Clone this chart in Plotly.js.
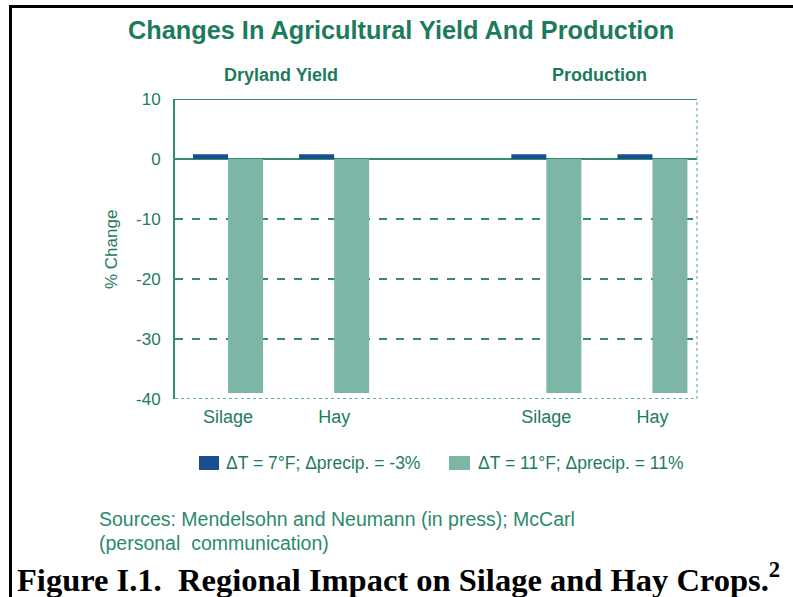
<!DOCTYPE html>
<html><head><meta charset="utf-8">
<script src="https://cdn.plot.ly/plotly-3.0.1.min.js"></script>
<style>html,body{margin:0;padding:0;background:#fff;}#frame{position:absolute;left:0;top:0;width:793px;height:597px;}
#bt{position:absolute;left:9px;top:5px;width:784px;height:3px;background:#000;}
#bl{position:absolute;left:9px;top:5px;width:3px;height:592px;background:#000;}
#chart{position:absolute;left:0;top:0;width:793px;height:597px;}</style>
</head><body><div id="frame"><div id="chart"></div><div id="bt"></div><div id="bl"></div></div>
<script>
// ---- data ----
const panels = ['Dryland Yield', 'Production'];
const crops = ['Silage', 'Hay'];
const seriesNames = ['ΔT = 7°F; Δprecip. = -3%', 'ΔT = 11°F; Δprecip. = 11%'];
const warmValues = [0.8, 0.8, 0.8, 0.8];     // ΔT = 7°F
const hotValues = [-39, -39, -39, -39];      // ΔT = 11°F
const yTicks = [10, 0, -10, -20, -30, -40];
const dashedGrid = [-10, -20, -30];
const chartTitle = 'Changes In Agricultural Yield And Production';
const yTitle = '% Change';
const sourceLines = ['Sources: Mendelsohn and Neumann (in press); McCarl', '(personal  communication)'];
const caption = 'Figure I.1.  Regional Impact on Silage and Hay Crops.<sup>2</sup>';

// ---- styles ----
const teal = '#1d7b5d';
const axisCol = '#2f8f70';
const blue = '#174f8f';
const green = '#7db6a6';
const sans = 'Liberation Sans, Arial, sans-serif';

const keys = [];
panels.forEach(p => crops.forEach(c => keys.push(p + ' ' + c)));
const catOrder = [keys[0], keys[1], 'spacer', keys[2], keys[3]];
const tickText = keys.map(k => crops.find(c => k.endsWith(c)));

const traces = [
  {type: 'bar', x: keys, y: warmValues, name: seriesNames[0], marker: {color: blue, line: {width: 0}}, showlegend: false, hoverinfo: 'skip'},
  {type: 'bar', x: keys, y: hotValues, name: seriesNames[1], marker: {color: green, line: {width: 0}}, showlegend: false, hoverinfo: 'skip'}
];

const shapes = [];
dashedGrid.forEach(v => shapes.push({type: 'line', xref: 'paper', yref: 'y', x0: 0, x1: 1, y0: v, y1: v, layer: 'below', line: {color: axisCol, width: 2, dash: '8px,9px'}}));
shapes.push({type: 'line', xref: 'paper', yref: 'y', x0: 0, x1: 1, y0: 0, y1: 0, layer: 'below', line: {color: axisCol, width: 2}});
shapes.push({type: 'line', xref: 'paper', yref: 'y', x0: 0, x1: 1, y0: yTicks[0], y1: yTicks[0], layer: 'below', line: {color: axisCol, width: 2}});
shapes.push({type: 'line', xref: 'paper', yref: 'y', x0: 0, x1: 1, y0: yTicks[yTicks.length-1], y1: yTicks[yTicks.length-1], layer: 'above', line: {color: '#6aad98', width: 2, dash: 'dot'}});
shapes.push({type: 'line', xref: 'paper', yref: 'paper', x0: 1, x1: 1, y0: 0, y1: 1, layer: 'below', line: {color: '#8cc2b2', width: 1.5, dash: 'dot'}});
// legend swatches
const L = 175, W = 522, T = 99, H = 300;
const px = v => (v - L) / W, py = v => (T + H - v) / H;
shapes.push({type: 'rect', xref: 'paper', yref: 'paper', x0: px(199), x1: px(219), y0: py(456), y1: py(470), fillcolor: blue, line: {width: 0}});
shapes.push({type: 'rect', xref: 'paper', yref: 'paper', x0: px(449), x1: px(470), y0: py(456), y1: py(470), fillcolor: green, line: {width: 0}});

const annotations = [
  {text: '<b>' + chartTitle + '</b>', xref: 'paper', yref: 'paper', x: px(401), y: py(30), showarrow: false, xanchor: 'center', yanchor: 'middle', font: {family: sans, size: 25.3, color: teal}},
  {text: '<b>' + panels[0] + '</b>', xref: 'x', yref: 'paper', x: 0.5, y: py(75), showarrow: false, xanchor: 'center', yanchor: 'middle', font: {family: sans, size: 18, color: teal}},
  {text: '<b>' + panels[1] + '</b>', xref: 'x', yref: 'paper', x: 3.5, y: py(75), showarrow: false, xanchor: 'center', yanchor: 'middle', font: {family: sans, size: 18, color: teal}},
  {text: yTitle, xref: 'paper', yref: 'paper', x: px(111), y: py(250), textangle: -90, showarrow: false, xanchor: 'center', yanchor: 'middle', font: {family: sans, size: 17, color: teal}},
  {text: seriesNames[0], xref: 'paper', yref: 'paper', x: px(224), y: py(463), showarrow: false, xanchor: 'left', yanchor: 'middle', font: {family: sans, size: 17.5, color: teal}},
  {text: seriesNames[1], xref: 'paper', yref: 'paper', x: px(476), y: py(463), showarrow: false, xanchor: 'left', yanchor: 'middle', font: {family: sans, size: 17.5, color: teal}},
  {text: sourceLines[0], xref: 'paper', yref: 'paper', x: px(97), y: py(519), showarrow: false, xanchor: 'left', yanchor: 'middle', font: {family: sans, size: 19.5, color: '#2a8a6c'}},
  {text: sourceLines[1], xref: 'paper', yref: 'paper', x: px(97), y: py(543), showarrow: false, xanchor: 'left', yanchor: 'middle', font: {family: sans, size: 19.5, color: '#2a8a6c'}},
  {text: '<b>' + caption + '</b>', xref: 'paper', yref: 'paper', x: px(15), y: py(577), showarrow: false, xanchor: 'left', yanchor: 'middle', font: {family: 'Liberation Serif, Times New Roman, serif', size: 32.5, color: '#000'}}
];

const layout = {
  width: 793, height: 597,
  margin: {l: L, r: 793 - L - W, t: T, b: 597 - T - H, pad: 0},
  paper_bgcolor: '#fff', plot_bgcolor: '#fff',
  barmode: 'group', bargap: 0.34, bargroupgap: 0,
  showlegend: false,
  xaxis: {type: 'category', categoryorder: 'array', categoryarray: catOrder, range: [-0.5, 4.42],
    tickvals: keys, ticktext: tickText, showgrid: false, showline: false, zeroline: false,
    ticks: 'outside', ticklen: 1, tickcolor: 'rgba(0,0,0,0)', tickfont: {family: sans, size: 18, color: teal}},
  yaxis: {range: [-40, 10], tickvals: yTicks, ticktext: yTicks.map(String), showgrid: false, zeroline: false,
    showline: true, linecolor: axisCol, linewidth: 2,
    ticks: 'outside', ticklen: 9, tickcolor: 'rgba(0,0,0,0)', tickfont: {family: sans, size: 17, color: teal}},
  shapes: shapes,
  annotations: annotations
};
Plotly.newPlot('chart', traces, layout, {staticPlot: true, displayModeBar: false});
</script></body></html>
